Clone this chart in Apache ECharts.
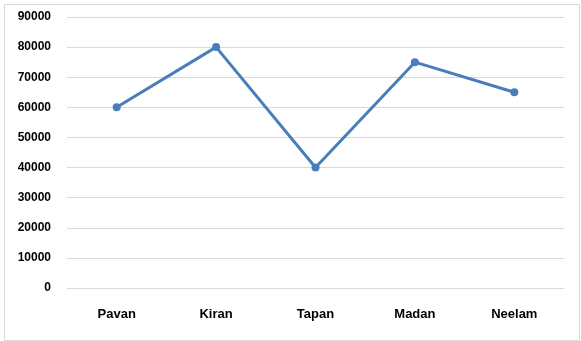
<!DOCTYPE html>
<html>
<head>
<meta charset="utf-8">
<script src="https://cdn.jsdelivr.net/npm/echarts@6/dist/echarts.min.js"></script>
<style>html,body{margin:0;padding:0;background:#fff}#c{width:581px;height:341px}</style>
</head>
<body>
<div id="c"></div>
<script>
var categories = ['Pavan', 'Kiran', 'Tapan', 'Madan', 'Neelam'];
var values = [60000, 80000, 40000, 75000, 65000];

var chart = echarts.init(document.getElementById('c'), null, {renderer: 'canvas'});
chart.setOption({
  animation: false,
  backgroundColor: '#fff',
  graphic: [{
    type: 'rect', left: 2, top: 2,
    shape: {x: 0, y: 0, width: 575, height: 336},
    style: {fill: 'none', stroke: '#d9d9d9', lineWidth: 1}
  }],
  grid: {left: 67, right: 17, top: 17, bottom: 53, containLabel: false},
  xAxis: {
    type: 'category', data: categories, boundaryGap: true,
    axisLine: {show: false}, axisTick: {show: false},
    axisLabel: {margin: 20, color: '#000', fontFamily: 'Liberation Sans', fontWeight: 'bold', fontSize: 13}
  },
  yAxis: {
    type: 'value', min: 0, max: 90000, interval: 10000,
    axisLine: {show: false}, axisTick: {show: false},
    axisLabel: {margin: 16, color: '#000', fontFamily: 'Liberation Sans', fontWeight: 'bold', fontSize: 12,
      formatter: function (v) { return String(v); }},
    splitLine: {lineStyle: {color: '#d9d9d9', width: 1}}
  },
  series: [{
    type: 'line', data: values,
    symbol: 'circle', symbolSize: 8,
    lineStyle: {color: '#4a7ebb', width: 3},
    itemStyle: {color: '#4a7ebb'}
  }]
});
</script>
</body>
</html>
